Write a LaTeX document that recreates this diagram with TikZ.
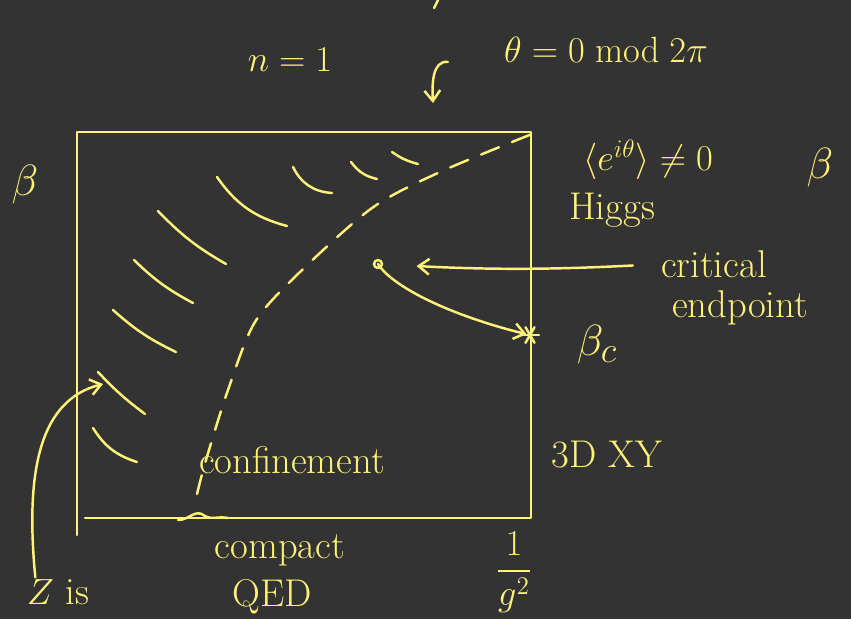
\documentclass[tikz,border=0pt]{standalone}
\usepackage{amsmath}
\usepackage{tikz}
\usetikzlibrary{arrows.meta}
\usepackage{xcolor}
\definecolor{board}{RGB}{51,51,51}
\definecolor{chalk}{RGB}{255,242,120}
\tikzset{>={Straight Barb[length=6pt,width=9pt]}}
\tikzstyle{ink}=[chalk,line width=1.4pt,line cap=round,line join=round]
\tikzstyle{hatchline}=[ink]
\tikzstyle{phaseline}=[ink,dash pattern=on 11pt off 8pt]
\tikzstyle{pointer}=[ink,->]
\tikzstyle{handtext}=[chalk,inner sep=1pt,font=\fontsize{22}{26}\selectfont]
\tikzstyle{bigtext}=[handtext,font=\fontsize{30}{34}\selectfont]

\begin{document}
\begin{tikzpicture}[x=0.02cm,y=-0.02cm]
  % BOARD
  \fill[board] (0,0) rectangle (851,619);
  \useasboundingbox (0,0) rectangle (851,619);
  \draw[ink] (438,0) -- (434,8);

  % BOX
  \draw[ink] (77,535) -- (77,132) -- (531,132) -- (531,518) -- (85,518);

  % PHASE BOUNDARY
  \draw[phaseline] plot[smooth] coordinates
    {(197,494) (206,460) (228,390) (255,322) (300,272) (372,208) (440,172) (532,134)};
  \draw[ink] (178,520) .. controls (190,520) and (195,508) .. (205,516)
    .. controls (212,520) and (218,516) .. (228,518);

  % HATCHING
  \foreach \xa/\ya/\xb/\yb/\bb in {392/152/418/164/10, 351/162/377/179/20,
      293/167/332/193/30, 217/177/287/226/20, 158/211/226/264/8,
      134/260/193/303/8, 113/310/176/352/8, 98/372/145/414/5, 93/428/137/462/20}{
    \draw[hatchline] (\xa,\ya) to[bend right=\bb] (\xb,\yb);
  }

  % POINTS
  \coordinate (cep) at (378,264);
  \coordinate (bc) at (530,335);
  \draw[ink] (cep) circle (4);
  \foreach \a in {0,60,120}{
    \draw[ink] (bc) ++(\a:9) -- ++(\a+180:18);
  }

  % LABELS
  \node[handtext] (n1) at (290,60) {$n=1$};
  \node[handtext] (theta) at (606,50) {$\theta = 0 \bmod 2\pi$};
  \node[bigtext] (betaL) at (25,185) {$\beta$};
  \node[bigtext] (betaR) at (820,168) {$\beta$};
  \node[handtext] (vev) at (648,160) {$\langle e^{i\theta}\rangle \neq 0$};
  \node[handtext] (higgs) at (612,210) {Higgs};
  \node[handtext,inner sep=0pt] (crit) at (714,264) {critical};
  \node[handtext,inner sep=0pt] (endp) at (740,308) {endpoint};
  \node[bigtext] (betac) at (597,345) {$\beta_c$};
  \node[handtext] (xy) at (607,455) {3D XY};
  \node[handtext] (conf) at (292,460) {confinement};
  \node[handtext] (cpt) at (280,550) {compact};
  \node[handtext] (qed) at (272,597) {QED};
  \node[handtext] (coup) at (514,572) {$\dfrac{1}{g^2}$};
  \node[handtext] (zis) at (58,592) {$Z$ is};

  % ARROWS
  \coordinate (hook) at (448,62);
  \coordinate (top) at (433,103);
  \draw[pointer] (hook) .. controls (432,60) and (432,85) .. (top);
  \draw[pointer,shorten <=16pt,shorten >=22pt] (crit.west) to[bend left=3] (cep);
  \draw[pointer,shorten >=2pt] (cep) .. controls (395,290) and (460,318) .. (bc);
  \coordinate (zhatch) at (103,384);
  \draw[pointer] ([xshift=6pt]zis.north west) .. controls (25,470) and (40,400) .. (zhatch);
\end{tikzpicture}
\end{document}
